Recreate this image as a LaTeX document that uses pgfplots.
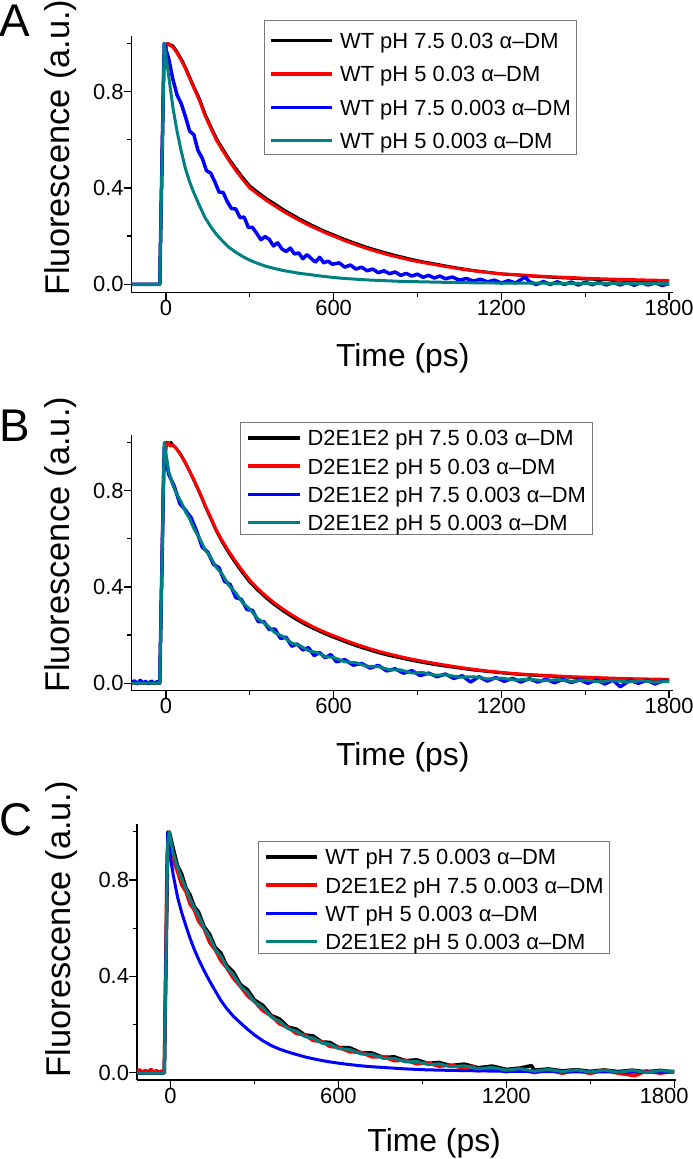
\documentclass[border=0pt]{standalone}
\usepackage{fontspec}
\setmainfont{Liberation Sans}
\usepackage{pgfplots}
\pgfplotsset{compat=1.18}
\definecolor{cteal}{RGB}{0,128,128}
\definecolor{cred}{RGB}{255,0,0}
\definecolor{cblue}{RGB}{0,0,255}
\definecolor{cgray}{RGB}{120,120,120}
\pgfplotsset{
 panel/.style={
  scale only axis,
  anchor=south west,
  axis x line*=bottom, axis y line*=left,
  axis line style={line width=1.3bp, black},
  tick align=outside,
  major tick length=7.7bp, minor tick length=4.3bp,
  every tick/.style={line width=1.3bp, black},
  xtick={0,600,1200,1800}, xticklabels={0,600,1200,1800},
  minor xtick={300,900,1500},
  ytick={0,0.4,0.8}, yticklabels={0.0,0.4,0.8},
  minor ytick={0.2,0.6,1.0},
  xticklabel style={font=\fontsize{22}{26}\selectfont, inner sep=0bp, anchor=north},
  yticklabel style={font=\fontsize{22}{26}\selectfont, inner sep=0bp, anchor=east},
  xlabel={Time (ps)}, ylabel={Fluorescence (a.u.)},
  every axis plot/.append style={line width=3.0bp, line join=round},
 },
 noisy/.style={line width=3.5bp},
 legA/.style={
  legend image code/.code={\draw[##1,line width=3.3bp] (0bp,7.9bp) -- (61bp,7.9bp);},
  legend style={at={(axis description cs:0.244,1.062)}, anchor=north west,
   draw=cgray, line width=1.1bp, inner xsep=5.4bp, inner ysep=1.4bp,
   row sep=1.8bp, column sep=6.2bp, cells={anchor=base west},
   nodes={inner sep=0bp, text height=26.5bp, text depth=5bp, font=\fontsize{22}{26}\selectfont}},
 },
 legBC/.style={
  legend image code/.code={\draw[##1,line width=3.3bp] (0bp,7.9bp) -- (51.3bp,7.9bp);},
  legend style={at={#1}, anchor=north west,
   draw=cgray, line width=1.1bp, inner xsep=6.2bp, inner ysep=0.5bp,
   row sep=1.3bp, column sep=6.3bp, cells={anchor=base west},
   nodes={inner sep=0bp, text height=23.2bp, text depth=3.6bp, font=\fontsize{22}{26}\selectfont}},
 },
}
\begin{document}
\begin{tikzpicture}
\useasboundingbox (0bp,0bp) rectangle (693bp,1159bp);
% ---------------- Panel A ----------------
\begin{axis}[panel, legA, at={(131.5bp,866.3bp)}, width=541.5bp, height=256.7bp,
  xmin=-123, xmax=1814, ymin=-0.035, ymax=1.031,
  every axis x label/.style={at={(axis description cs:0.501,-0.286)}, anchor=base, font=\fontsize{32}{38}\selectfont},
  every axis y label/.style={at={(axis description cs:-0.13,0.565)}, rotate=90, anchor=center, font=\fontsize{34.5}{40}\selectfont}]
\addplot[black] coordinates {(-123,0) (-22,0) (-8,0.9) (0,0.99) (6,1.0) (14,0.995) (25,0.99) (40,0.965) (55,0.935) (70,0.9) (85,0.86) (100,0.82) (120,0.77) (140,0.707) (160,0.656) (180,0.607) (200,0.568) (225,0.522) (250,0.481) (275,0.443) (300,0.408) (330,0.381) (360,0.355) (390,0.333) (420,0.31) (450,0.29) (480,0.27) (510,0.252) (540,0.235) (570,0.219) (600,0.205) (640,0.186) (680,0.169) (720,0.153) (760,0.139) (800,0.126) (840,0.114) (880,0.103) (920,0.093) (960,0.085) (1000,0.076) (1050,0.066) (1100,0.057) (1150,0.05) (1200,0.043) (1250,0.039) (1300,0.035) (1350,0.031) (1400,0.028) (1450,0.025) (1500,0.022) (1550,0.02) (1600,0.018) (1650,0.016) (1700,0.014) (1750,0.013) (1800,0.012)};
\addlegendentry{WT pH 7.5 0.03 α–DM}
\addplot[cred] coordinates {(-123,0) (-22,0) (-8,0.88) (0,0.98) (6,1.0) (14,0.993) (25,0.985) (40,0.96) (55,0.93) (70,0.895) (85,0.855) (100,0.815) (120,0.763) (140,0.70) (160,0.65) (180,0.60) (200,0.561) (225,0.515) (250,0.473) (275,0.435) (300,0.40) (330,0.373) (360,0.348) (390,0.325) (420,0.303) (450,0.283) (480,0.264) (510,0.246) (540,0.23) (570,0.214) (600,0.20) (640,0.181) (680,0.164) (720,0.148) (760,0.134) (800,0.121) (840,0.11) (880,0.099) (920,0.09) (960,0.082) (1000,0.074) (1050,0.064) (1100,0.056) (1150,0.049) (1200,0.043) (1250,0.04) (1300,0.036) (1350,0.033) (1400,0.03) (1450,0.028) (1500,0.025) (1550,0.023) (1600,0.021) (1650,0.02) (1700,0.018) (1750,0.017) (1800,0.015)};
\addlegendentry{WT pH 5 0.03 α–DM}
\addplot[cblue, noisy] coordinates {(-123,0) (-22,0) (-6,1.0) (10,0.937) (25,0.851) (40,0.786) (55,0.75) (70,0.696) (85,0.636) (100,0.621) (115,0.555) (130,0.524) (145,0.472) (160,0.462) (175,0.426) (190,0.383) (205,0.381) (220,0.342) (235,0.314) (250,0.313) (265,0.277) (280,0.279) (295,0.236) (310,0.236) (325,0.211) (340,0.185) (355,0.198) (370,0.186) (385,0.159) (400,0.172) (415,0.147) (430,0.136) (445,0.15) (460,0.126) (475,0.13) (490,0.106) (505,0.123) (520,0.107) (535,0.092) (550,0.112) (565,0.089) (580,0.096) (595,0.083) (620,0.089) (640,0.071) (660,0.08) (680,0.063) (700,0.071) (720,0.056) (740,0.063) (760,0.048) (780,0.056) (800,0.044) (820,0.051) (840,0.037) (860,0.045) (880,0.034) (900,0.042) (920,0.029) (940,0.037) (960,0.026) (980,0.034) (1000,0.023) (1025,0.03) (1050,0.017) (1075,0.024) (1100,0.013) (1125,0.021) (1150,0.01) (1175,0.017) (1200,0.005) (1225,0.015) (1250,0.005) (1285,0.03) (1300,0.011) (1325,-0.001) (1350,0.011) (1375,-0.001) (1400,0.01) (1425,-0.001) (1450,0.009) (1475,-0.003) (1500,0.008) (1525,-0.0015) (1550,0.008) (1575,-0.003) (1600,0.007) (1625,-0.0025) (1650,0.007) (1675,-0.004) (1700,0.007) (1725,-0.003) (1750,0.006) (1775,-0.005) (1800,0.003)};
\addlegendentry{WT pH 7.5 0.003 α–DM}
\addplot[cteal] coordinates {(-123,0) (-22,0) (-6,1.0) (10,0.865) (25,0.735) (40,0.635) (55,0.552) (70,0.48) (85,0.425) (100,0.38) (120,0.327) (140,0.277) (160,0.24) (180,0.208) (200,0.183) (225,0.154) (250,0.133) (275,0.115) (300,0.10) (330,0.086) (360,0.074) (390,0.065) (420,0.057) (450,0.051) (480,0.045) (510,0.041) (540,0.036) (570,0.032) (600,0.028) (640,0.024) (680,0.021) (720,0.018) (760,0.016) (800,0.014) (840,0.012) (880,0.011) (920,0.01) (960,0.009) (1000,0.008) (1050,0.007) (1100,0.006) (1200,0.005) (1300,0.0045) (1400,0.004) (1500,0.004) (1600,0.0035) (1700,0.003) (1800,0.003)};
\addlegendentry{WT pH 5 0.003 α–DM}
\end{axis}
% ---------------- Panel B ----------------
\begin{axis}[panel, legBC={(axis description cs:0.2004,1.052)}, at={(131.5bp,468.3bp)}, width=541.5bp, height=255.7bp,
  xmin=-123, xmax=1814, ymin=-0.031, ymax=1.031,
  every axis x label/.style={at={(axis description cs:0.501,-0.294)}, anchor=base, font=\fontsize{32}{38}\selectfont},
  every axis y label/.style={at={(axis description cs:-0.13,0.57)}, rotate=90, anchor=center, font=\fontsize{34.5}{40}\selectfont}]
\addplot[black] coordinates {(-123,0) (-22,0) (-8,0.9) (2,1.0) (10,0.993) (18,1.0) (25,0.988) (40,0.972) (55,0.946) (70,0.915) (85,0.88) (100,0.843) (120,0.793) (140,0.737) (160,0.686) (180,0.634) (200,0.59) (225,0.542) (250,0.498) (275,0.458) (300,0.42) (330,0.385) (360,0.353) (390,0.325) (420,0.30) (450,0.277) (480,0.256) (510,0.237) (540,0.221) (570,0.205) (600,0.191) (640,0.173) (680,0.156) (720,0.141) (760,0.127) (800,0.115) (840,0.105) (880,0.095) (920,0.086) (960,0.078) (1000,0.071) (1050,0.063) (1100,0.055) (1150,0.049) (1200,0.043) (1250,0.038) (1300,0.034) (1350,0.031) (1400,0.028) (1450,0.025) (1500,0.023) (1550,0.021) (1600,0.019) (1650,0.017) (1700,0.015) (1750,0.014) (1800,0.012)};
\addlegendentry{D2E1E2 pH 7.5 0.03 α–DM}
\addplot[cred] coordinates {(-123,0) (-22,0) (-8,0.88) (2,0.99) (8,1.0) (15,0.985) (25,0.99) (40,0.97) (55,0.945) (70,0.915) (85,0.88) (100,0.845) (120,0.795) (140,0.74) (160,0.69) (180,0.638) (200,0.595) (225,0.548) (250,0.505) (275,0.465) (300,0.428) (330,0.392) (360,0.36) (390,0.332) (420,0.307) (450,0.284) (480,0.263) (510,0.244) (540,0.227) (570,0.211) (600,0.197) (640,0.179) (680,0.162) (720,0.147) (760,0.133) (800,0.121) (840,0.11) (880,0.1) (920,0.091) (960,0.083) (1000,0.075) (1050,0.066) (1100,0.058) (1150,0.051) (1200,0.045) (1250,0.04) (1300,0.036) (1350,0.033) (1400,0.03) (1450,0.027) (1500,0.025) (1550,0.023) (1600,0.021) (1650,0.019) (1700,0.018) (1750,0.017) (1800,0.016)};
\addlegendentry{D2E1E2 pH 5 0.03 α–DM}
\addplot[cblue, noisy] coordinates {(-123,0.003) (-112,0.01) (-102,-0.002) (-92,0.012) (-82,0.001) (-72,0.008) (-62,-0.003) (-52,0.009) (-42,0.0) (-32,0.006) (-22,0.0) (-6,0.98) (10,0.868) (30,0.818) (50,0.746) (70,0.719) (90,0.688) (110,0.632) (130,0.565) (150,0.545) (170,0.494) (190,0.48) (210,0.423) (230,0.41) (250,0.356) (270,0.348) (290,0.306) (310,0.303) (330,0.256) (350,0.256) (370,0.223) (390,0.225) (410,0.186) (430,0.191) (450,0.154) (470,0.163) (490,0.138) (510,0.148) (530,0.115) (550,0.127) (570,0.106) (590,0.119) (610,0.089) (640,0.098) (670,0.075) (700,0.082) (730,0.063) (760,0.074) (790,0.051) (820,0.06) (850,0.042) (880,0.052) (910,0.032) (940,0.042) (970,0.027) (1000,0.038) (1030,0.02) (1060,0.031) (1090,0.005) (1120,0.027) (1150,0.009) (1180,0.024) (1210,0.008) (1240,0.02) (1270,0.005) (1300,0.019) (1330,0.005) (1360,0.017) (1390,0.002) (1420,0.016) (1450,0.003) (1480,0.014) (1510,0.0) (1540,0.014) (1570,-0.003) (1600,0.013) (1625,-0.015) (1660,0.012) (1690,0.0) (1720,0.012) (1750,-0.003) (1780,0.011) (1800,0.007)};
\addlegendentry{D2E1E2 pH 7.5 0.003 α–DM}
\addplot[cteal] coordinates {(-123,0) (-22,0) (-6,1.0) (10,0.88) (25,0.822) (40,0.783) (55,0.752) (70,0.713) (85,0.683) (100,0.643) (120,0.603) (140,0.555) (160,0.523) (180,0.482) (200,0.455) (225,0.407) (250,0.375) (275,0.334) (300,0.308) (330,0.267) (360,0.243) (390,0.21) (420,0.193) (450,0.167) (480,0.156) (510,0.135) (540,0.128) (570,0.111) (600,0.107) (640,0.089) (680,0.085) (720,0.07) (760,0.069) (800,0.056) (840,0.055) (880,0.043) (920,0.044) (960,0.033) (1000,0.035) (1050,0.025) (1100,0.027) (1150,0.018) (1200,0.021) (1250,0.013) (1300,0.017) (1350,0.01) (1400,0.015) (1450,0.008) (1500,0.013) (1550,0.006) (1600,0.012) (1650,0.005) (1700,0.011) (1750,0.004) (1800,0.008)};
\addlegendentry{D2E1E2 pH 5 0.003 α–DM}
\end{axis}
% ---------------- Panel C ----------------
\begin{axis}[panel, legBC={(axis description cs:0.224,0.936)}, at={(136.9bp,79bp)}, width=539.5bp, height=255.7bp,
  xmin=-120, xmax=1808, ymin=-0.030, ymax=1.031,
  xticklabels={0,600,1200,{\hspace*{-20bp}1800}},
  every axis x label/.style={at={(axis description cs:0.551,-0.278)}, anchor=base, font=\fontsize{32}{38}\selectfont},
  every axis y label/.style={at={(axis description cs:-0.14,0.59)}, rotate=90, anchor=center, font=\fontsize{34.5}{40}\selectfont}]
\addplot[black, noisy] coordinates {(-123,0) (-22,0) (-10,0.92) (-4,1.0) (2,0.97) (10,0.93) (25,0.86) (40,0.825) (55,0.768) (70,0.738) (85,0.69) (100,0.668) (120,0.607) (140,0.575) (160,0.52) (180,0.497) (200,0.447) (225,0.418) (250,0.366) (275,0.345) (300,0.302) (330,0.28) (360,0.238) (390,0.223) (420,0.19) (450,0.181) (480,0.157) (510,0.153) (540,0.128) (570,0.126) (600,0.105) (640,0.104) (680,0.083) (720,0.082) (760,0.064) (800,0.066) (840,0.05) (880,0.054) (920,0.039) (960,0.043) (1000,0.03) (1050,0.036) (1100,0.021) (1150,0.028) (1200,0.014) (1250,0.02) (1290,0.03) (1300,0.011) (1350,0.016) (1400,0.008) (1450,0.013) (1500,0.006) (1550,0.012) (1600,0.005) (1650,0.011) (1700,0.004) (1750,0.01) (1800,0.004)};
\addlegendentry{WT pH 7.5 0.003 α–DM}
\addplot[cred, noisy] coordinates {(-123,0.005) (-110,0.012) (-100,0.002) (-90,0.01) (-80,0.004) (-70,0.014) (-60,0.003) (-50,0.009) (-40,0.001) (-30,0.008) (-22,0.003) (-12,0.9) (-6,0.99) (2,0.94) (10,0.88) (25,0.835) (40,0.78) (55,0.752) (70,0.7) (85,0.676) (100,0.63) (120,0.598) (140,0.541) (160,0.51) (180,0.466) (200,0.437) (225,0.392) (250,0.358) (275,0.32) (300,0.296) (330,0.258) (360,0.236) (390,0.203) (420,0.188) (450,0.163) (480,0.156) (510,0.134) (540,0.13) (570,0.109) (600,0.106) (640,0.087) (680,0.085) (720,0.066) (760,0.067) (800,0.05) (840,0.052) (880,0.037) (920,0.041) (960,0.027) (1000,0.032) (1050,0.019) (1080,0.028) (1100,0.008) (1150,0.02) (1200,0.004) (1250,0.016) (1300,0.0) (1350,0.012) (1400,-0.002) (1450,0.01) (1500,-0.003) (1550,0.011) (1600,-0.002) (1660,-0.012) (1700,0.008) (1750,-0.002) (1800,0.006)};
\addlegendentry{D2E1E2 pH 7.5 0.003 α–DM}
\addplot[cblue] coordinates {(-123,0) (-22,0) (-10,1.0) (0,0.89) (10,0.82) (25,0.73) (40,0.665) (55,0.61) (70,0.558) (85,0.512) (100,0.472) (120,0.424) (140,0.38) (160,0.34) (180,0.30) (200,0.268) (225,0.234) (250,0.207) (275,0.181) (300,0.157) (330,0.133) (360,0.113) (390,0.098) (420,0.086) (450,0.076) (480,0.066) (510,0.058) (540,0.051) (570,0.045) (600,0.04) (640,0.034) (680,0.029) (720,0.025) (760,0.022) (800,0.019) (840,0.016) (880,0.014) (920,0.012) (960,0.011) (1000,0.01) (1100,0.008) (1200,0.006) (1300,0.005) (1400,0.004) (1500,0.004) (1600,0.003) (1700,0.003) (1800,0.003)};
\addlegendentry{WT pH 5 0.003 α–DM}
\addplot[cteal] coordinates {(-123,0) (-22,0) (-10,0.95) (-4,1.0) (2,0.96) (10,0.91) (25,0.853) (40,0.807) (55,0.765) (70,0.721) (85,0.684) (100,0.654) (120,0.601) (140,0.562) (160,0.513) (180,0.484) (200,0.44) (225,0.406) (250,0.359) (275,0.333) (300,0.294) (330,0.27) (360,0.231) (390,0.213) (420,0.183) (450,0.173) (480,0.15) (510,0.144) (540,0.123) (570,0.119) (600,0.1) (640,0.097) (680,0.078) (720,0.076) (760,0.06) (800,0.06) (840,0.045) (880,0.047) (920,0.034) (960,0.037) (1000,0.025) (1050,0.029) (1100,0.017) (1150,0.022) (1200,0.011) (1250,0.017) (1300,0.007) (1350,0.014) (1400,0.005) (1450,0.012) (1500,0.003) (1550,0.011) (1600,0.002) (1650,0.01) (1700,0.001) (1750,0.009) (1800,0.005)};
\addlegendentry{D2E1E2 pH 5 0.003 α–DM}
\end{axis}
\node[anchor=base west, inner sep=0pt, font=\fontsize{46}{50}\selectfont] at (-1bp,1122bp) {A};
\node[anchor=base west, inner sep=0pt, font=\fontsize{46}{50}\selectfont] at (-1bp,717bp) {B};
\node[anchor=base west, inner sep=0pt, font=\fontsize{46}{50}\selectfont] at (-1bp,323bp) {C};
\end{tikzpicture}
\end{document}
